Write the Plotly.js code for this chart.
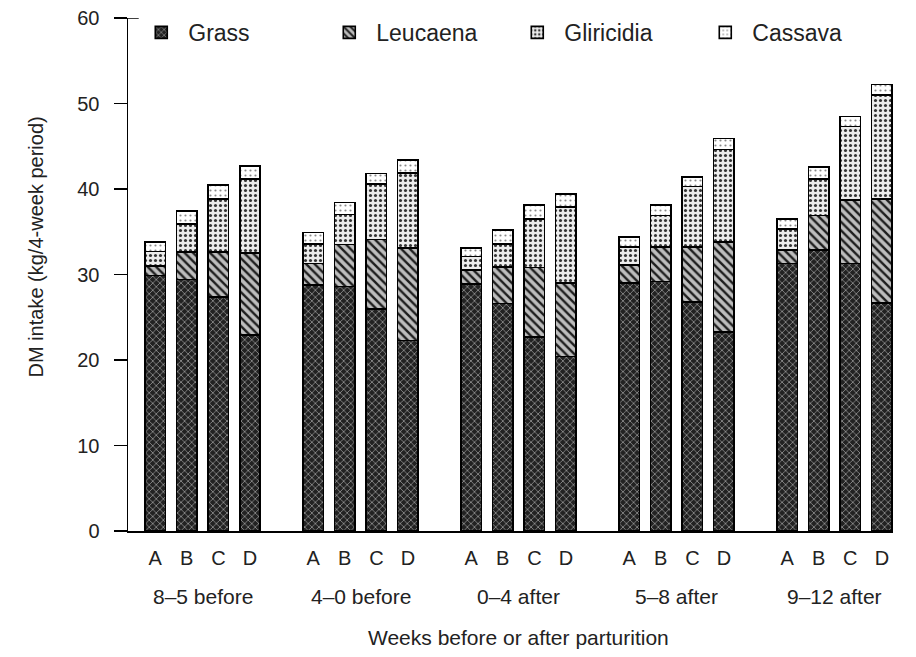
<!DOCTYPE html>
<html><head><meta charset="utf-8">
<script src="https://cdn.plot.ly/plotly-3.0.1.min.js"></script>
<style>html,body{margin:0;padding:0;background:#fff}#chart{width:916px;height:657px}</style>
</head><body><div id="chart"></div>
<script>
const periods = ['8–5 before','4–0 before','0–4 after','5–8 after','9–12 after'];
const diets = ['A','B','C','D'];
const grass      = [29.9,29.4,27.4,22.9, 28.8,28.6,26.0,22.3, 28.9,26.6,22.7,20.4, 29.0,29.2,26.8,23.3, 31.3,32.9,31.3,26.7];
const leucaena   = [1.1,3.2,5.2,9.6,     2.5,4.9,8.1,10.8,    1.6,4.3,8.1,8.6,     2.1,4.0,6.4,10.5,    1.6,4.0,7.4,12.1];
const gliricidia = [1.7,3.3,6.2,8.7,     2.3,3.5,6.5,8.8,     1.6,2.7,5.7,8.9,     2.1,3.7,7.1,10.8,    2.4,4.3,8.6,12.2];
const cassava    = [1.1,1.5,1.7,1.5,     1.3,1.4,1.2,1.5,     1.0,1.6,1.6,1.5,     1.2,1.2,1.1,1.3,     1.2,1.4,1.2,1.2];
const seriesNames = ['Grass','Leucaena','Gliricidia','Cassava'];
const yTicks = [0,10,20,30,40,50,60];

// positions: one empty slot between period groups
const xs = [], letters = [];
periods.forEach((p,g)=>diets.forEach((d,b)=>{xs.push(g*(diets.length+1)+b); letters.push(d);}));
const groupCenters = periods.map((p,g)=>g*(diets.length+1)+(diets.length-1)/2);

const styles = [
  {shape:'x',  bg:'#222222', fg:'#8f8f8f', size:5, sol:0.3},
  {shape:'\\', bg:'#bdbdbd', fg:'#1e1e1e', size:6, sol:0.4},
  {shape:'.',  bg:'#ececec', fg:'#333333', size:5, sol:0.3},
  {shape:'.',  bg:'#ffffff', fg:'#8a8a8a', size:5, sol:0.15}
];
const vals = [grass, leucaena, gliricidia, cassava];
const font = "'Liberation Sans', Arial, Helvetica, sans-serif";
const traces = vals.map((v,i)=>({
  type:'bar', name:seriesNames[i], x:xs, y:v, width:0.65,
  marker:{color:styles[i].bg, line:{color:'#000', width:1.6},
    pattern:{shape:styles[i].shape, fgcolor:styles[i].fg, bgcolor:styles[i].bg, size:styles[i].size, solidity:styles[i].sol, fillmode:'replace'}},
  hoverinfo:'skip'
}));

const annotations = periods.map((p,g)=>({
  text:p, x:groupCenters[g], xref:'x', y:0, yref:'paper', yanchor:'middle', yshift:-65,
  showarrow:false, font:{size:21, color:'#222', family:font}
}));
annotations.push({text:'Weeks before or after parturition', x:groupCenters[2], xref:'x', y:0, yref:'paper',
  yanchor:'middle', yshift:-106, showarrow:false, font:{size:21, color:'#222', family:font}});
annotations.push({text:'DM intake (kg/4-week period)', x:-0.12, xref:'paper', y:0.553, yref:'paper',
  textangle:-90, xanchor:'center', yanchor:'middle', showarrow:false, font:{size:20, color:'#222', family:font}});

const layout = {
  width:916, height:657, paper_bgcolor:'#fff', plot_bgcolor:'#fff',
  margin:{l:128, r:23, t:17, b:126},
  barmode:'stack', showlegend:true,
  font:{family:font, color:'#222'},
  legend:{orientation:'h', x:0.0082, xanchor:'left', y:0.97, yanchor:'middle', traceorder:'normal',
    itemwidth:44, entrywidth:129, entrywidthmode:'pixels', font:{size:23, color:'#222', family:font}, bgcolor:'rgba(0,0,0,0)'},
  xaxis:{range:[-0.86,23.35], tickmode:'array', tickvals:xs, ticktext:letters, ticks:'', showline:true,
    linecolor:'#000', linewidth:1.5, showgrid:false, zeroline:false, tickfont:{size:20, family:font, color:'#222'},
    ticklabelstandoff:8, fixedrange:true},
  yaxis:{range:[0,60], tickmode:'array', tickvals:yTicks, ticks:'outside', ticklen:13, tickwidth:1.5, tickcolor:'#000',
    showline:true, linecolor:'#000', linewidth:1.5, showgrid:false, zeroline:false,
    tickfont:{size:20, family:font, color:'#222'}, ticklabelstandoff:10, fixedrange:true},
  shapes:[{type:'line', xref:'paper', x0:0, x1:0.014, yref:'y', y0:60, y1:60, line:{color:'#000', width:1.5}}],
  annotations:annotations
};
Plotly.newPlot('chart', traces, layout, {staticPlot:true});
</script></body></html>
